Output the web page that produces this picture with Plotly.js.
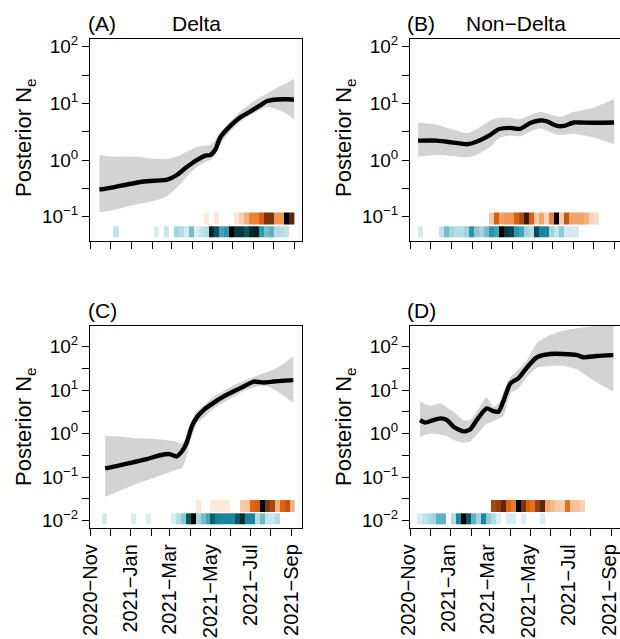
<!DOCTYPE html>
<html><head><meta charset="utf-8">
<script src="https://cdn.plot.ly/plotly-3.0.1.min.js"></script>
<style>html,body{margin:0;padding:0;overflow:hidden;background:#fff}#plot{width:624px;height:639px}</style>
</head><body><div id="plot"></div>
<script>
// ---------- data ----------
const monthTicks = ['2020-11-01','2021-01-01','2021-03-01','2021-05-01','2021-07-01','2021-09-01'];
const monthLabels = ['2020\u2212Nov','2021\u2212Jan','2021\u2212Mar','2021\u2212May','2021\u2212Jul','2021\u2212Sep'];
const monthMinor = ['2020-12-01','2021-02-01','2021-04-01','2021-06-01','2021-08-01'];
const yTicksAB = [0.1,1,10,100];
const yLabelsAB = ['10<sup>\u22121</sup>','10<sup>0</sup>','10<sup>1</sup>','10<sup>2</sup>'];
const yMinorAB = [0.316,3.16,31.6];
const yTicksCD = [0.01,0.1,1,10,100];
const yLabelsCD = ['10<sup>\u22122</sup>','10<sup>\u22121</sup>','10<sup>0</sup>','10<sup>1</sup>','10<sup>2</sup>'];
const yMinorCD = [0.0316,0.316,3.16,31.6];

// Panel A (Delta)
const datesA = ['2020-11-14','2020-12-05','2020-12-25','2021-01-14','2021-02-03','2021-02-23','2021-03-10','2021-03-24','2021-04-08','2021-04-21','2021-04-28','2021-05-06','2021-05-13','2021-05-28','2021-06-12','2021-06-27','2021-07-10','2021-07-22','2021-08-06','2021-08-20','2021-08-31'];
const medA = [0.30,0.33,0.37,0.41,0.43,0.45,0.55,0.75,1.0,1.2,1.22,1.55,2.5,4.0,5.7,7.2,9.0,11.0,11.7,11.8,11.6];
const upA  = [1.23,1.15,1.15,1.12,1.05,1.05,1.15,1.4,1.7,1.8,1.85,2.3,3.0,4.8,7.2,10,12.5,15,19,23,27.6];
const loA  = [0.12,0.13,0.15,0.17,0.19,0.23,0.33,0.5,0.75,0.92,1.0,1.25,1.9,3.2,4.7,6.3,7.5,8.7,7.8,6.5,5.2];

// Panel B (Non-Delta)
const datesB = ['2020-11-12','2020-12-10','2021-01-01','2021-01-24','2021-02-07','2021-02-27','2021-03-12','2021-03-29','2021-04-13','2021-04-28','2021-05-13','2021-05-23','2021-06-07','2021-06-17','2021-07-02','2021-07-12','2021-08-01','2021-08-31'];
const medB = [2.2,2.2,2.05,1.9,2.1,2.75,3.5,3.7,3.55,4.5,5.0,4.8,4.0,4.0,4.6,4.6,4.55,4.6];
const upB  = [4.6,4.2,3.5,3.0,3.5,5.0,5.6,5.6,5.3,6.2,7.1,6.6,5.9,6.0,7.1,7.5,8.5,11.8];
const loB  = [1.15,1.23,1.18,1.12,1.23,1.7,2.4,2.7,2.6,3.2,3.6,3.3,2.8,2.8,2.95,2.8,2.5,1.9];

// Panel C
const datesC = ['2020-11-23','2020-12-10','2021-01-04','2021-01-25','2021-02-14','2021-03-01','2021-03-11','2021-03-19','2021-03-26','2021-04-03','2021-04-11','2021-04-21','2021-05-06','2021-05-21','2021-06-05','2021-06-20','2021-07-06','2021-07-21','2021-08-05','2021-08-20','2021-09-04'];
const medC = [0.16,0.18,0.22,0.26,0.32,0.34,0.30,0.39,0.6,1.45,2.4,3.5,5.1,7.1,9.3,12,15.8,15,15.8,16.5,17];
const upC  = [0.89,0.87,0.8,0.78,0.74,0.7,0.66,0.6,0.85,2.0,3.3,4.3,7.1,9.5,13,16,20,24.5,30,40,61];
const loC  = [0.035,0.045,0.065,0.085,0.11,0.13,0.15,0.16,0.3,0.85,1.7,2.3,3.8,5.2,7.0,9.5,11.5,13,10.5,7.5,5.0];

// Panel D
const datesD = ['2020-11-15','2020-11-23','2020-12-03','2020-12-16','2020-12-26','2021-01-05','2021-01-20','2021-01-30','2021-02-09','2021-02-24','2021-03-06','2021-03-14','2021-03-22','2021-04-01','2021-04-13','2021-04-26','2021-05-11','2021-05-31','2021-06-20','2021-07-11','2021-07-21','2021-08-10','2021-09-04'];
const medD = [2.05,1.8,2.0,2.25,2.05,1.45,1.13,1.25,2.05,3.8,3.3,3.2,5.9,14.4,18.7,33,57,68,68,64,57,61,64];
const upD  = [5.5,4.8,4.4,5.0,4.0,3.2,2.05,2.05,3.2,6.9,4.2,5.0,9.8,20,30,49,120,185,233,265,280,300,320];
const loD  = [0.85,0.95,1.0,0.95,0.88,0.72,0.62,0.66,0.95,1.7,1.9,2.2,2.6,8.5,11,20,33,36,36,30,24,15,9.3];

// sampling-intensity bins (centres)
const binsAB = ['2020-11-08 18:00','2020-11-16 06:00','2020-11-23 18:00','2020-12-01 06:00','2020-12-08 18:00','2020-12-16 06:00','2020-12-23 18:00','2020-12-31 06:00','2021-01-07 18:00','2021-01-15 06:00','2021-01-22 18:00','2021-01-30 06:00','2021-02-06 18:00','2021-02-14 06:00','2021-02-21 18:00','2021-03-01 06:00','2021-03-08 18:00','2021-03-16 06:00','2021-03-23 18:00','2021-03-31 06:00','2021-04-07 18:00','2021-04-15 06:00','2021-04-22 18:00','2021-04-30 06:00','2021-05-07 18:00','2021-05-15 06:00','2021-05-22 18:00','2021-05-30 06:00','2021-06-06 18:00','2021-06-14 06:00','2021-06-21 18:00','2021-06-29 06:00','2021-07-06 18:00','2021-07-14 06:00','2021-07-21 18:00','2021-07-29 06:00','2021-08-05 18:00','2021-08-13 06:00','2021-08-20 18:00','2021-08-28 06:00'];
const binsCD = ['2020-11-13 18:00','2020-11-21 06:00','2020-11-28 18:00','2020-12-06 06:00','2020-12-13 18:00','2020-12-21 06:00','2020-12-28 18:00','2021-01-05 06:00','2021-01-12 18:00','2021-01-20 06:00','2021-01-27 18:00','2021-02-04 06:00','2021-02-11 18:00','2021-02-19 06:00','2021-02-26 18:00','2021-03-06 06:00','2021-03-13 18:00','2021-03-21 06:00','2021-03-28 18:00','2021-04-05 06:00','2021-04-12 18:00','2021-04-20 06:00','2021-04-27 18:00','2021-05-05 06:00','2021-05-12 18:00','2021-05-20 06:00','2021-05-27 18:00','2021-06-04 06:00','2021-06-11 18:00','2021-06-19 06:00','2021-06-26 18:00','2021-07-04 06:00','2021-07-11 18:00','2021-07-19 06:00','2021-07-26 18:00','2021-08-03 06:00','2021-08-10 18:00','2021-08-18 06:00','2021-08-25 18:00','2021-09-02 06:00'];
const n = null;
const tealA   = [n,n,n,n,0.2,n,n,n,n,n,n,n,0.12,n,0.18,n,0.3,0.25,0.15,0.4,0.12,0.2,0.25,0.9,0.75,0.5,0.55,1.0,0.85,0.85,0.75,0.9,0.92,0.55,0.4,0.45,0.25,0.25,0.2,n];
const orangeA = [n,n,n,n,n,n,n,n,n,n,n,n,n,n,n,n,n,n,n,n,n,n,0.07,n,0.07,n,n,n,0.08,0.22,0.35,0.5,0.5,0.6,0.8,0.8,0.45,0.45,1.0,0.85];
const tealB   = [n,0.15,n,n,n,0.2,0.4,0.3,0.25,0.25,0.3,0.55,0.35,0.3,0.4,0.55,0.5,1.0,0.85,0.8,0.55,0.5,0.3,0.25,0.8,0.6,0.6,0.3,0.2,0.35,0.15,0.15,0.15,n,n,n,n,n,n,n];
const orangeB = [n,n,n,n,n,n,n,n,n,n,n,n,n,n,n,0.25,0.6,0.4,0.45,0.45,0.6,0.7,0.9,0.6,0.25,0.4,0.2,0.5,1.0,0.25,0.65,0.4,0.4,0.4,0.35,0.2,0.15,n,n,n];
const tealC   = [n,0.15,n,n,n,n,n,0.12,n,n,0.12,n,n,n,n,0.12,0.25,0.35,0.75,1.0,0.3,0.4,0.5,0.72,0.62,0.6,0.6,0.6,0.75,0.88,0.6,0.6,0.25,0.42,0.2,0.18,0.25,n,n,n];
const orangeC = [n,n,n,n,n,n,n,n,n,n,n,n,n,n,n,n,n,n,n,n,0.07,n,n,0.06,0.06,0.06,0.06,n,n,0.25,0.28,0.58,0.62,1.0,0.78,0.72,0.35,0.58,0.65,0.35];
const tealD   = [0.1,0.2,0.25,0.3,0.45,0.45,n,0.25,0.6,1.0,0.75,0.45,0.3,0.6,0.35,0.25,0.1,n,0.12,0.12,n,0.1,n,n,n,0.1,n,n,n,n,n,n,n,n,n,n,n,n,n,n];
const orangeD = [n,n,n,n,n,n,n,n,n,n,n,n,n,n,n,0.72,0.75,0.85,0.58,0.52,1.0,0.8,0.6,0.55,0.75,0.85,0.4,0.32,0.25,0.22,0.55,0.3,0.28,0.2,n,n,n,n,n,n];

// ---------- styling ----------
const W = 624, H = 639;
const FONT = '"Liberation Sans", Arial, Helvetica, sans-serif';
const tealScale = [[0,'#eaf5f7'],[0.15,'#d2ebf0'],[0.3,'#a3d4de'],[0.45,'#5eb2c3'],[0.58,'#1a8ea5'],[0.75,'#0b5565'],[0.88,'#062e37'],[1,'#000000']];
const orangeScale = [[0,'#fdf1ea'],[0.15,'#fbdcc6'],[0.3,'#f6bf98'],[0.45,'#ef9650'],[0.58,'#e2640f'],[0.72,'#a9470f'],[0.85,'#5e2608'],[1,'#000000']];

const fx = p => p / W;
const fy = p => 1 - p / H;

const panels = [
  {k:'', dates:datesA, med:medA, up:upA, lo:loA, teal:tealA, orange:orangeA, bins:binsAB,
   xd:[90,301.7], yd:[39.2,241.2], xr:['2020-10-30 22:48','2021-09-11 09:36'], yr:[-1.433,2.133],
   yt:yTicksAB, yl:yLabelsAB, ym:yMinorAB, shift:0, strip:{o:[212.5,224.3], t:[226.3,237.5]}},
  {k:'2', dates:datesB, med:medB, up:upB, lo:loB, teal:tealB, orange:orangeB, bins:binsAB,
   xd:[410,621.7], yd:[39.2,241.2], xr:['2020-10-30 22:48','2021-09-11 09:36'], yr:[-1.433,2.133],
   yt:yTicksAB, yl:yLabelsAB, ym:yMinorAB, shift:0, strip:{o:[212.5,224.3], t:[226.3,237.5]}},
  {k:'3', dates:datesC, med:medC, up:upC, lo:loC, teal:tealC, orange:orangeC, bins:binsCD,
   xd:[90,301.7], yd:[326.1,528.2], xr:['2020-10-30 22:30','2021-09-16 17:00'], yr:[-2.172,2.473],
   yt:yTicksCD, yl:yLabelsCD, ym:yMinorCD, shift:0, strip:{o:[500,511.7], t:[513.3,524.5]}},
  {k:'4', dates:datesD, med:medD, up:upD, lo:loD, teal:tealD, orange:orangeD, bins:binsCD,
   xd:[410,621.7], yd:[326.1,528.2], xr:['2020-10-30 22:30','2021-09-16 17:00'], yr:[-2.172,2.473],
   yt:yTicksCD, yl:yLabelsCD, ym:yMinorCD, shift:-2, strip:{o:[500,511.7], t:[513.3,524.5]}}
];

const traces = [];
const layout = {
  width: W, height: H, margin:{l:0,r:0,t:0,b:0},
  paper_bgcolor:'white', plot_bgcolor:'white', showlegend:false,
  font:{family:FONT, color:'black', size:19},
  annotations:[]
};

const minorStyle = vals => ({tickmode:'array', tickvals:vals, ticks:'outside', ticklen:7, tickwidth:1, tickcolor:'black', showgrid:false});

panels.forEach((p, i) => {
  const xa = 'x' + p.k, ya = 'y' + p.k;
  const ovIdx = 5 + i;
  const yo = 'y' + ovIdx;
  traces.push({type:'scatter', mode:'lines', x:p.dates, y:p.lo, xaxis:xa, yaxis:ya,
    line:{width:0, shape:'spline', smoothing:0.6, color:'#d3d3d3'}, hoverinfo:'skip'});
  traces.push({type:'scatter', mode:'lines', x:p.dates, y:p.up, xaxis:xa, yaxis:ya,
    fill:'tonexty', fillcolor:'#d3d3d3',
    line:{width:0, shape:'spline', smoothing:0.6, color:'#d3d3d3'}, hoverinfo:'skip'});
  traces.push({type:'scatter', mode:'lines', x:p.dates, y:p.med, xaxis:xa, yaxis:ya,
    line:{width:4.4, shape:'spline', smoothing:0.6, color:'black'}, hoverinfo:'skip'});
  traces.push({type:'heatmap', x:p.bins, z:[p.orange], y0:(p.strip.o[0]+p.strip.o[1])/2, dy:p.strip.o[1]-p.strip.o[0],
    xaxis:xa, yaxis:yo, colorscale:orangeScale, zmin:0, zmax:1, showscale:false, hoverinfo:'skip'});
  traces.push({type:'heatmap', x:p.bins, z:[p.teal], y0:(p.strip.t[0]+p.strip.t[1])/2, dy:p.strip.t[1]-p.strip.t[0],
    xaxis:xa, yaxis:yo, colorscale:tealScale, zmin:0, zmax:1, showscale:false, hoverinfo:'skip'});

  layout['xaxis' + p.k] = {
    type:'date', domain:[fx(p.xd[0]), Math.min(1, fx(p.xd[1]))], range:p.xr, anchor:ya,
    showline:true, mirror:true, linecolor:'black', linewidth:1,
    ticks:'outside', ticklen:7, tickwidth:1, tickcolor:'black',
    tickmode:'array', tickvals:monthTicks, ticktext:monthLabels, tickangle:-90,
    ticklabelshift: p.shift,
    minor: minorStyle(monthMinor),
    showticklabels: (i >= 2), tickfont:{size:20, color:'black', family:FONT},
    showgrid:false, zeroline:false, fixedrange:true
  };
  layout['yaxis' + p.k] = {
    type:'log', domain:[fy(p.yd[1]), fy(p.yd[0])], range:p.yr, anchor:xa,
    showline:true, mirror:true, linecolor:'black', linewidth:1,
    ticks:'outside', ticklen:7, tickwidth:1, tickcolor:'black',
    tickmode:'array', tickvals:p.yt, ticktext:p.yl,
    minor: minorStyle(p.ym),
    tickfont:{size:19, color:'black', family:FONT},
    showgrid:false, zeroline:false, fixedrange:true
  };
  layout['yaxis' + ovIdx] = {
    overlaying: ya, anchor: xa, range:[p.yd[1], p.yd[0]], visible:false,
    showgrid:false, zeroline:false, fixedrange:true
  };
});

const ann = (text, xpx, ypx, opts) => Object.assign({
  text, x: fx(xpx), y: fy(ypx), xref:'paper', yref:'paper', showarrow:false,
  xanchor:'center', yanchor:'middle', font:{size:21, color:'black', family:FONT}
}, opts || {});
const yt = {textangle:-90, font:{size:22, color:'black', family:FONT}};

layout.annotations.push(
  ann('(A)', 86, 24, {xanchor:'left'}),
  ann('Delta', 196, 24),
  ann('(B)', 405, 24, {xanchor:'left'}),
  ann('Non\u2212Delta', 516, 24),
  ann('(C)', 86, 310, {xanchor:'left'}),
  ann('(D)', 405, 310, {xanchor:'left'}),
  ann('Posterior N<sub>e</sub>', 25, 138, yt),
  ann('Posterior N<sub>e</sub>', 345, 138, yt),
  ann('Posterior N<sub>e</sub>', 25, 427, yt),
  ann('Posterior N<sub>e</sub>', 345, 427, yt)
);

Plotly.newPlot('plot', traces, layout, {staticPlot:true, displayModeBar:false});
</script></body></html>
